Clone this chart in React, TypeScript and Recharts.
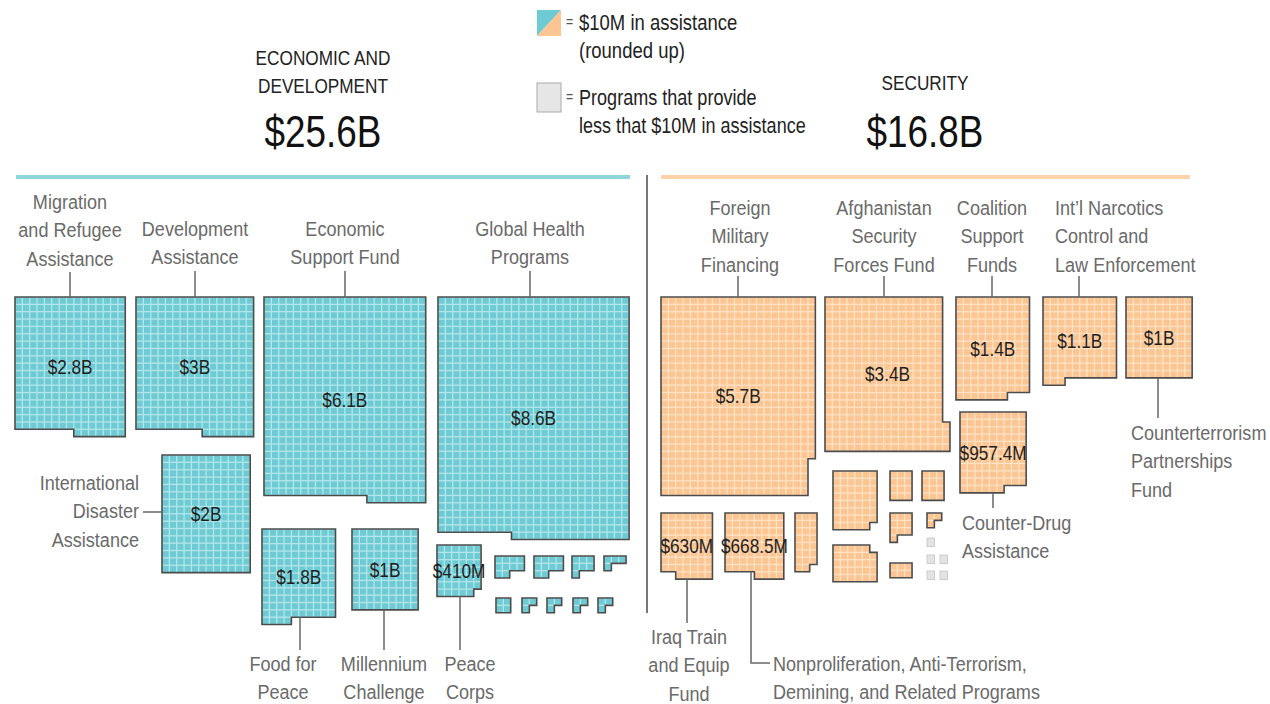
import React from 'react';
import { ScatterChart, Scatter, XAxis, YAxis, Customized } from 'recharts';

const FONT = "'Liberation Sans', Arial, sans-serif";
const NARROW = 0.82;
const LABEL_NARROW = 0.86;
const CELL = 7.35;
const GAP = 1.3;

// each cell = $10M (rounded up)
const econNames = [
    ['Migration', 'and Refugee', 'Assistance'],
    ['Development', 'Assistance'],
    ['Economic', 'Support Fund'],
    ['Global Health', 'Programs'],
    ['International', 'Disaster', 'Assistance'],
    ['Food for', 'Peace'],
    ['Millennium', 'Challenge'],
    ['Peace', 'Corps'],
    [], [], [], [], [], [], [], [], [],
];
const econValues = ['$2.8B', '$3B', '$6.1B', '$8.6B', '$2B', '$1.8B', '$1B', '$410M', '', '', '', '', '', '', '', '', ''];
const econCells = [277, 295, 602, 848, 192, 124, 99, 41, 10, 10, 7, 4, 4, 3, 3, 3, 3];

const secNames = [
    ['Foreign', 'Military', 'Financing'],
    ['Afghanistan', 'Security', 'Forces Fund'],
    ['Coalition', 'Support', 'Funds'],
    ['Int\u2019l Narcotics', 'Control and', 'Law Enforcement'],
    ['Counterterrorism', 'Partnerships', 'Fund'],
    ['Counter-Drug', 'Assistance'],
    ['Iraq Train', 'and Equip', 'Fund'],
    ['Nonproliferation, Anti-Terrorism,', 'Demining, and Related Programs'],
    [], [], [], [], [], [], [], [],
];
const secValues = ['$5.7B', '$3.4B', '$1.4B', '$1.1B', '$1B', '$957.4M', '$630M', '$668.5M', '', '', '', '', '', '', '', ''];
const secCells = [562, 340, 137, 113, 99, 96, 61, 68, 23, 47, 12, 12, 29, 10, 3, 6];

// programs under $10M
const tinyCount = 5;

// layout: top-left corner, fill direction, cells per line, notch corner
const econLayout = [
    { x: 15, y: 297, dir: 'row', n: 15, notch: 'bl' },
    { x: 136, y: 297, dir: 'row', n: 16, notch: 'bl' },
    { x: 264, y: 297, dir: 'row', n: 22, notch: 'bl' },
    { x: 438, y: 297, dir: 'row', n: 26, notch: 'bl' },
    { x: 162, y: 455, dir: 'row', n: 12, notch: 'br' },
    { x: 262, y: 529, dir: 'row', n: 10, notch: 'br' },
    { x: 352, y: 529, dir: 'row', n: 9, notch: 'br' },
    { x: 437, y: 545, dir: 'row', n: 6, notch: 'br' },
    { x: 495, y: 556, dir: 'row', n: 4, notch: 'br' },
    { x: 534, y: 556, dir: 'row', n: 4, notch: 'br' },
    { x: 572, y: 556, dir: 'row', n: 3, notch: 'br' },
    { x: 604, y: 556, dir: 'row', n: 3, notch: 'br' },
    { x: 496, y: 598, dir: 'row', n: 2, notch: 'br' },
    { x: 522, y: 598, dir: 'row', n: 2, notch: 'br' },
    { x: 547, y: 598, dir: 'row', n: 2, notch: 'br' },
    { x: 573, y: 598, dir: 'row', n: 2, notch: 'br' },
    { x: 598, y: 598, dir: 'row', n: 2, notch: 'br' },
];
const econLabelPos = [
    { x: 70, y: 201, anchor: 'middle', leader: [[70, 272], [70, 297]] },
    { x: 195, y: 228, anchor: 'middle', leader: [[195, 271], [195, 297]] },
    { x: 345, y: 228, anchor: 'middle', leader: [[345, 271], [345, 297]] },
    { x: 530, y: 228, anchor: 'middle', leader: [[530, 271], [530, 297]] },
    { x: 139, y: 482, anchor: 'end', leader: [[143, 512], [162, 512]] },
    { x: 283, y: 663, anchor: 'middle', leader: [[300, 617], [300, 650]] },
    { x: 384, y: 663, anchor: 'middle', leader: [[384, 610], [384, 650]] },
    { x: 470, y: 663, anchor: 'middle', leader: [[460, 596], [460, 650]] },
];

const secLayout = [
    { x: 661, y: 297, dir: 'col', n: 27, notch: 'br' },
    { x: 825, y: 297, dir: 'col', n: 21, notch: 'tr' },
    { x: 956, y: 297, dir: 'row', n: 10, notch: 'br' },
    { x: 1043, y: 297, dir: 'row', n: 10, notch: 'br' },
    { x: 1126, y: 297, dir: 'row', n: 9, notch: 'br' },
    { x: 960, y: 412, dir: 'row', n: 9, notch: 'br' },
    { x: 661, y: 513, dir: 'row', n: 7, notch: 'bl' },
    { x: 725, y: 513, dir: 'row', n: 8, notch: 'bl' },
    { x: 795, y: 513, dir: 'row', n: 3, notch: 'br' },
    { x: 833, y: 471, dir: 'row', n: 6, notch: 'br' },
    { x: 890, y: 471, dir: 'row', n: 3, notch: 'br' },
    { x: 922, y: 471, dir: 'row', n: 3, notch: 'br' },
    { x: 833, y: 545, dir: 'row', n: 6, notch: 'tr' },
    { x: 890, y: 513, dir: 'row', n: 3, notch: 'br' },
    { x: 927, y: 513, dir: 'row', n: 2, notch: 'br' },
    { x: 890, y: 563, dir: 'row', n: 3, notch: 'br' },
];
const secLabelPos = [
    { x: 740, y: 207, anchor: 'middle', leader: [[738, 276], [738, 297]] },
    { x: 884, y: 207, anchor: 'middle', leader: [[884, 276], [884, 297]] },
    { x: 992, y: 207, anchor: 'middle', leader: [[992, 276], [992, 297]] },
    { x: 1055, y: 207, anchor: 'start', leader: [[1079, 276], [1079, 297]] },
    { x: 1131, y: 432, anchor: 'start', leader: [[1158, 378], [1158, 418]] },
    { x: 962, y: 522, anchor: 'start', leader: [[993, 493], [993, 508]] },
    { x: 689, y: 636, anchor: 'middle', leader: [[687, 579], [687, 623]] },
    { x: 773, y: 663, anchor: 'start', leader: [[751, 572], [751, 663], [770, 663]] },
];

const tinyLayout = [
    { x: 927, y: 538 },
    { x: 927, y: 555 },
    { x: 940, y: 555 },
    { x: 927, y: 571 },
    { x: 940, y: 571 },
];

const TEAL = { fill: '#6ecbd4', line: '#b3e6ea', rule: '#8fd5dc' };
const ORANGE = { fill: '#fcc592', line: '#ffe3c6', rule: '#fdd2a8' };

const buildBlocks = (cells, names, values, layout, labels, color) =>
    cells.map((c, i) => ({
        ...layout[i],
        cells: c,
        name: names[i],
        value: values[i],
        label: labels[i],
        color,
    }));

const econData = buildBlocks(econCells, econNames, econValues, econLayout, econLabelPos, TEAL);
const secData = buildBlocks(secCells, secNames, secValues, secLayout, secLabelPos, ORANGE);
const tinyData = tinyLayout.slice(0, tinyCount);

// condensed text (no narrow font installed, so squeeze Liberation Sans)
const T = ({ x, y, size, fill, anchor = 'start', sx = NARROW, children }: any) => (
    <text
        transform={`translate(${x} ${y}) scale(${sx} 1)`}
        textAnchor={anchor}
        dominantBaseline="central"
        fontFamily={FONT}
        fontSize={size}
        fill={fill}
    >
        {children}
    </text>
);

const Block = (props: any) => {
    const { cx, cy, payload } = props;
    const { cells, n, dir, notch, color, value, name, label } = payload;
    const lines = Math.ceil(cells / n);
    const missing = n * lines - cells;
    const cols = dir === 'row' ? n : lines;
    const rows = dir === 'row' ? lines : n;
    const nw = missing === 0 ? 0 : dir === 'row' ? missing : 1;
    const nh = missing === 0 ? 0 : dir === 'row' ? 1 : missing;

    const inNotch = (c: number, r: number) => {
        if (!nw) return false;
        const side = notch[1] === 'r' ? c >= cols - nw : c < nw;
        const vert = notch[0] === 'b' ? r >= rows - nh : r < nh;
        return side && vert;
    };

    const rects = [];
    for (let r = 0; r < rows; r++) {
        for (let c = 0; c < cols; c++) {
            if (inNotch(c, r)) continue;
            rects.push(
                <rect
                    key={`${r}-${c}`}
                    x={cx + c * CELL + GAP / 2}
                    y={cy + r * CELL + GAP / 2}
                    width={CELL - GAP}
                    height={CELL - GAP}
                    fill={color.fill}
                />
            );
        }
    }

    const W = cols * CELL;
    const H = rows * CELL;
    const w = nw * CELL;
    const h = nh * CELL;
    const x0 = cx;
    const y0 = cy;
    let pts;
    if (!nw) pts = [[x0, y0], [x0 + W, y0], [x0 + W, y0 + H], [x0, y0 + H]];
    else if (notch === 'br')
        pts = [[x0, y0], [x0 + W, y0], [x0 + W, y0 + H - h], [x0 + W - w, y0 + H - h], [x0 + W - w, y0 + H], [x0, y0 + H]];
    else if (notch === 'bl')
        pts = [[x0, y0], [x0 + W, y0], [x0 + W, y0 + H], [x0 + w, y0 + H], [x0 + w, y0 + H - h], [x0, y0 + H - h]];
    else if (notch === 'tr')
        pts = [[x0, y0], [x0 + W - w, y0], [x0 + W - w, y0 + h], [x0 + W, y0 + h], [x0 + W, y0 + H], [x0, y0 + H]];
    else
        pts = [[x0 + w, y0], [x0 + W, y0], [x0 + W, y0 + H], [x0, y0 + H], [x0, y0 + h], [x0 + w, y0 + h]];
    const poly = pts.map((p) => p.join(',')).join(' ');

    return (
        <g>
            <polygon points={poly} fill={color.line} />
            {rects}
            <polygon points={poly} fill="none" stroke="#4b4b4b" strokeWidth={1.6} />
            {value && (
                <T x={cx + W / 2} y={cy + H / 2} size={21} fill="#1e1e1e" anchor="middle">
                    {value}
                </T>
            )}
            {label && (
                <g>
                    <polyline
                        points={label.leader.map((p) => p.join(',')).join(' ')}
                        fill="none"
                        stroke="#666"
                        strokeWidth={1.5}
                    />
                    {name.map((t, k) => (
                        <T
                            key={k}
                            x={label.x}
                            y={label.y + k * 28.5}
                            size={21}
                            sx={LABEL_NARROW}
                            fill="#6a6a6a"
                            anchor={label.anchor}
                        >
                            {t}
                        </T>
                    ))}
                </g>
            )}
        </g>
    );
};

const Tiny = (props: any) => {
    const { cx, cy } = props;
    return <rect x={cx} y={cy} width={7.5} height={8.5} fill="#e3e3e3" stroke="#cdcdcd" strokeWidth={1} />;
};

const Headers = () => (
    <g>
        {/* section titles */}
        <T x={323} y={58} anchor="middle" size={21} fill="#222">ECONOMIC AND</T>
        <T x={323} y={86} anchor="middle" size={21} fill="#222">DEVELOPMENT</T>
        <T x={323} y={132} anchor="middle" size={45} fill="#111">$25.6B</T>
        <T x={925} y={83} anchor="middle" size={21} fill="#222">SECURITY</T>
        <T x={925} y={132} anchor="middle" size={45} fill="#111">$16.8B</T>

        <line x1={16} y1={177} x2={630} y2={177} stroke={TEAL.rule} strokeWidth={4} />
        <line x1={661} y1={177} x2={1190} y2={177} stroke={ORANGE.rule} strokeWidth={4} />
        <line x1={647} y1={175} x2={647} y2={613} stroke="#777" strokeWidth={2} />

        {/* legend */}
        <polygon points="537,10 561,10 537,36" fill={TEAL.fill} />
        <polygon points="561,10 561,36 537,36" fill={ORANGE.fill} />
        <T x={566} y={22} size={15} fill="#555">=</T>
        <T x={579} y={22} size={21.5} sx={0.86} fill="#222">$10M in assistance</T>
        <T x={579} y={50} size={21.5} sx={0.86} fill="#222">(rounded up)</T>
        <rect x={537} y={83} width={24} height={29} fill="#e6e6e6" stroke="#aaa" strokeWidth={1} />
        <T x={566} y={97} size={15} fill="#555">=</T>
        <T x={579} y={97} size={21.5} sx={0.84} fill="#222">Programs that provide</T>
        <T x={579} y={125} size={21.5} sx={0.84} fill="#222">less that $10M in assistance</T>
    </g>
);

export default function App() {
    return (
        <div style={{ position: 'absolute', left: 0, top: 0, width: 1270, height: 704, background: '#fff' }}>
            <ScatterChart width={1270} height={704} margin={{ top: 0, right: 0, bottom: 0, left: 0 }}>
                <XAxis type="number" dataKey="x" domain={[0, 1270]} hide />
                <YAxis type="number" dataKey="y" domain={[0, 704]} reversed hide />
                <Customized component={Headers} />
                <Scatter data={econData} shape={(p: any) => <Block {...p} />} isAnimationActive={false} />
                <Scatter data={secData} shape={(p: any) => <Block {...p} />} isAnimationActive={false} />
                <Scatter data={tinyData} shape={(p: any) => <Tiny {...p} />} isAnimationActive={false} />
            </ScatterChart>
        </div>
    );
}
